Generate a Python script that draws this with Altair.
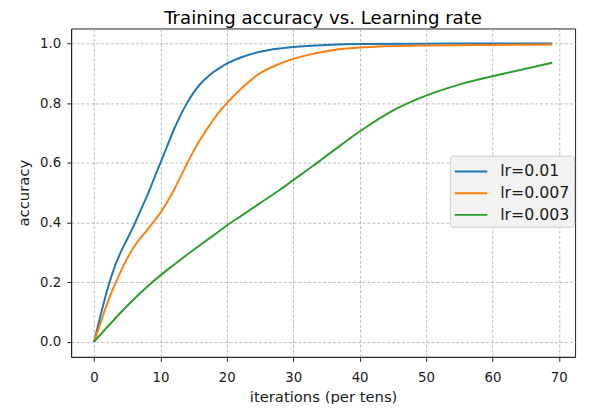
import altair as alt
import pandas as pd

# ---- data ----
series_names = ["lr=0.01", "lr=0.007", "lr=0.003"]
series_colors = ["#1f77b4", "#ff7f0e", "#2ca02c"]

x_fast = [0, 1, 2, 3, 4, 5, 6, 7, 8, 9, 10, 11, 12, 13, 14, 15, 16, 17, 18, 19, 20,
          22, 25, 28, 30, 35, 40, 50, 60, 69]
acc_lr_001 = [0, 0.09, 0.175, 0.245, 0.30, 0.345, 0.39, 0.44, 0.49, 0.545, 0.60,
              0.655, 0.71, 0.758, 0.80, 0.835, 0.864, 0.886, 0.904, 0.919, 0.932,
              0.952, 0.972, 0.983, 0.988, 0.995, 0.998, 0.999, 1.0, 1.0]
acc_lr_0007 = [0, 0.065, 0.13, 0.185, 0.235, 0.28, 0.318, 0.348, 0.375, 0.403, 0.433,
               0.468, 0.508, 0.552, 0.597, 0.64, 0.678, 0.713, 0.745, 0.774, 0.80,
               0.845, 0.90, 0.932, 0.948, 0.974, 0.986, 0.993, 0.995, 0.996]

x_slow = [0, 2, 4, 6, 8, 10, 12, 14, 16, 18, 20, 22, 25, 28, 30, 33, 36, 40, 45,
          50, 55, 60, 65, 69]
acc_lr_0003 = [0, 0.05, 0.098, 0.143, 0.185, 0.223, 0.258, 0.292, 0.325, 0.357, 0.39,
               0.42, 0.465, 0.51, 0.542, 0.59, 0.64, 0.705, 0.775, 0.825, 0.862,
               0.89, 0.915, 0.935]

x_ticks = [0, 10, 20, 30, 40, 50, 60, 70]
y_ticks = [0.0, 0.2, 0.4, 0.6, 0.8, 1.0]

rows = []
for name, xs, ys in [(series_names[0], x_fast, acc_lr_001),
                     (series_names[1], x_fast, acc_lr_0007),
                     (series_names[2], x_slow, acc_lr_0003)]:
    for xv, yv in zip(xs, ys):
        rows.append({"iter": xv, "acc": yv, "lr": name})
df = pd.DataFrame(rows)

FONT = "DejaVu Sans"

chart = alt.Chart(df).mark_line(strokeWidth=2, interpolate="monotone").encode(
    x=alt.X("iter:Q",
            scale=alt.Scale(domain=[-3.45, 72.45], nice=False, zero=False),
            axis=alt.Axis(values=x_ticks, title="iterations (per tens)",
                          format="d", titlePadding=6, labelPadding=9)),
    y=alt.Y("acc:Q",
            scale=alt.Scale(domain=[-0.05, 1.05], nice=False, zero=False),
            axis=alt.Axis(values=y_ticks, title="accuracy", format=".1f",
                          titlePadding=8, labelPadding=6)),
    color=alt.Color("lr:N",
                    scale=alt.Scale(domain=series_names, range=series_colors),
                    sort=series_names,
                    legend=alt.Legend(orient="none", legendX=384, legendY=129,
                                      title=None, symbolType="M-1,0H2",
                                      symbolSize=484, symbolStrokeWidth=2,
                                      labelFontSize=16, labelOffset=23,
                                      labelFont=FONT, labelColor="#1a1a1a",
                                      padding=4, rowPadding=2,
                                      fillColor="#f2f2f2", strokeColor="#cccccc",
                                      cornerRadius=3)),
).properties(
    width=511,
    height=333,
    title=alt.TitleParams("Training accuracy vs. Learning rate", fontSize=18.4,
                          fontWeight="normal", font=FONT, color="#000000",
                          baseline="alphabetic", offset=5, dy=19),
    autosize=alt.AutoSizeParams(type="none"),
    padding={"left": 64, "top": 18, "right": 6, "bottom": 45},
).configure_view(
    stroke="#222222", strokeWidth=1
).configure_axis(
    grid=True, gridColor="#aaaaaa", gridDash=[3, 2], gridWidth=0.8,
    domainColor="#222222", tickColor="#222222", tickSize=4.5,
    labelFont=FONT, labelFontSize=13.5, labelColor="#1a1a1a",
    titleFont=FONT, titleFontSize=15, titleFontWeight="normal", titleColor="#1a1a1a",
)

chart.save("out.html", embed_options={"renderer": "svg", "actions": False})
